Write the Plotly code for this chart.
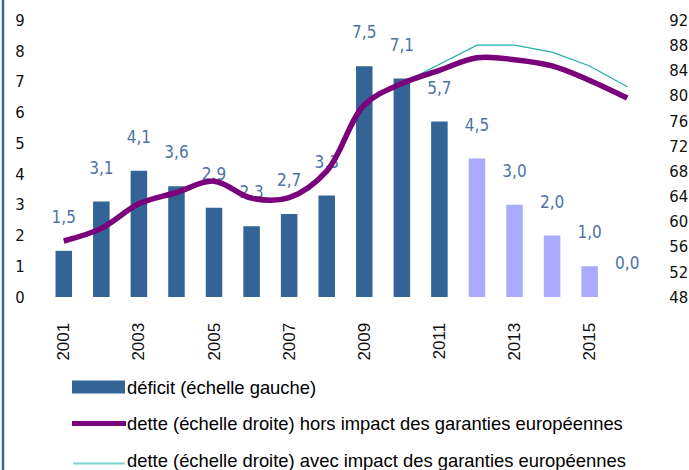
import plotly.graph_objects as go

years = list(range(2001, 2017))
deficit = [1.5, 3.1, 4.1, 3.6, 2.9, 2.3, 2.7, 3.3, 7.5, 7.1, 5.7, 4.5, 3.0, 2.0, 1.0, 0.0]
deficit_labels = ["1,5", "3,1", "4,1", "3,6", "2,9", "2,3", "2,7", "3,3", "7,5", "7,1",
                  "5,7", "4,5", "3,0", "2,0", "1,0", "0,0"]
dette_hors = [56.9, 58.9, 62.8, 64.6, 66.4, 63.7, 63.8, 68.0, 78.5, 81.9,
              84.0, 86.0, 85.7, 84.7, 82.4, 79.6]
years_avec = [2010, 2011, 2012, 2013, 2014, 2015, 2016]
dette_avec = [81.9, 84.9, 88.0, 88.0, 86.9, 84.7, 81.4]
x_tick_years = [2001, 2003, 2005, 2007, 2009, 2011, 2013, 2015]
left_ticks = list(range(0, 10))
right_ticks = list(range(48, 93, 4))
legend_labels = [
    "déficit (échelle gauche)",
    "dette (échelle droite) hors impact des garanties européennes",
    "dette (échelle droite) avec impact des garanties européennes",
]
first_forecast_year = 2012

W, H = 689, 470
ML, MR, MT, MB = 45, 43, 20, 173
PW, PH = W - ML - MR, H - MT - MB

DARK = "#346496"
LIGHT = "#aaaaff"
PURPLE = "#7b007b"
TEAL = "#22b0aa"
LABEL = "#4d72a6"
NARROW = "Liberation Sans Narrow, Arial Narrow, DejaVu Sans Condensed, Liberation Sans, sans-serif"
REG = "Liberation Sans, Arial, sans-serif"
CLEAR = "rgba(0,0,0,0)"

Y_RANGE = [0, 9]
Y2_RANGE = [48, 92]
label_offset = 32 / PH * (Y_RANGE[1] - Y_RANGE[0])

bar_colors = [LIGHT if y >= first_forecast_year else DARK for y in years]

fig = go.Figure()
fig.add_trace(go.Bar(x=years, y=deficit, marker=dict(color=bar_colors, line=dict(width=0)),
                     width=0.44, showlegend=False, hoverinfo="skip"))
fig.add_trace(go.Scatter(x=years, y=[v + label_offset for v in deficit], text=deficit_labels,
                         mode="text", textposition="middle center",
                         textfont=dict(family=NARROW, size=17, color=LABEL),
                         showlegend=False, hoverinfo="skip"))
fig.add_trace(go.Scatter(x=years_avec, y=dette_avec, yaxis="y2", mode="lines",
                         line=dict(color=TEAL, width=1.2), showlegend=False, hoverinfo="skip"))
fig.add_trace(go.Scatter(x=years, y=dette_hors, yaxis="y2", mode="lines",
                         line=dict(color=PURPLE, width=5.5, shape="spline", smoothing=1.0),
                         showlegend=False, hoverinfo="skip"))


def px(X):
    return (X - ML) / PW


def py(Y):
    return (H - MB - Y) / PH


shapes = []
annotations = []
# left border line
shapes.append(dict(type="line", xref="paper", yref="paper", x0=px(3), x1=px(3), y0=py(H), y1=py(0),
                   line=dict(color="#3b6594", width=2.5)))
# manual legend
legend_line_y = [387, 423.5, 463.5]
legend_text_y = [387, 423.5, 460]
shapes.append(dict(type="rect", xref="paper", yref="paper", x0=px(72), x1=px(125),
                   y0=py(393.5), y1=py(380.5), fillcolor=DARK, line=dict(width=0)))
shapes.append(dict(type="line", xref="paper", yref="paper", x0=px(72), x1=px(126),
                   y0=py(legend_line_y[1]), y1=py(legend_line_y[1]), line=dict(color=PURPLE, width=5)))
shapes.append(dict(type="line", xref="paper", yref="paper", x0=px(73), x1=px(125),
                   y0=py(legend_line_y[2]), y1=py(legend_line_y[2]), line=dict(color="#7fd3d3", width=2)))
for lab, ly in zip(legend_labels, legend_text_y):
    annotations.append(dict(text=lab, xref="paper", yref="paper", x=px(125), y=py(ly),
                            xanchor="left", yanchor="middle", showarrow=False,
                            font=dict(family=REG, size=18.4, color="#000000")))

fig.update_layout(
    width=W, height=H,
    margin=dict(l=ML, r=MR, t=MT, b=MB, autoexpand=False),
    paper_bgcolor="white", plot_bgcolor="white",
    showlegend=False,
    xaxis=dict(range=[2000.5, 2016.5], tickmode="array", tickvals=x_tick_years,
               ticktext=[str(y) for y in x_tick_years], tickangle=-90,
               tickfont=dict(family=REG, size=17, color="#111111"),
               showgrid=False, zeroline=False, showline=False, automargin=False,
               ticks="outside", ticklen=18, tickcolor=CLEAR),
    yaxis=dict(range=Y_RANGE, tickmode="array", tickvals=left_ticks,
               tickfont=dict(family=NARROW, size=16.5, color="#111111"),
               showgrid=False, zeroline=False, showline=False, automargin=False,
               ticks="outside", ticklen=16, tickcolor=CLEAR),
    yaxis2=dict(range=Y2_RANGE, overlaying="y", side="right", tickmode="array",
                tickvals=right_ticks,
                tickfont=dict(family=NARROW, size=16.5, color="#111111"),
                showgrid=False, zeroline=False, showline=False, automargin=False,
                ticks="outside", ticklen=19, tickcolor=CLEAR),
    bargap=0.5,
    shapes=shapes,
    annotations=annotations,
)

fig.write_html("out.html", config={"displayModeBar": False},
               post_script="document.body.style.margin='0px';")
